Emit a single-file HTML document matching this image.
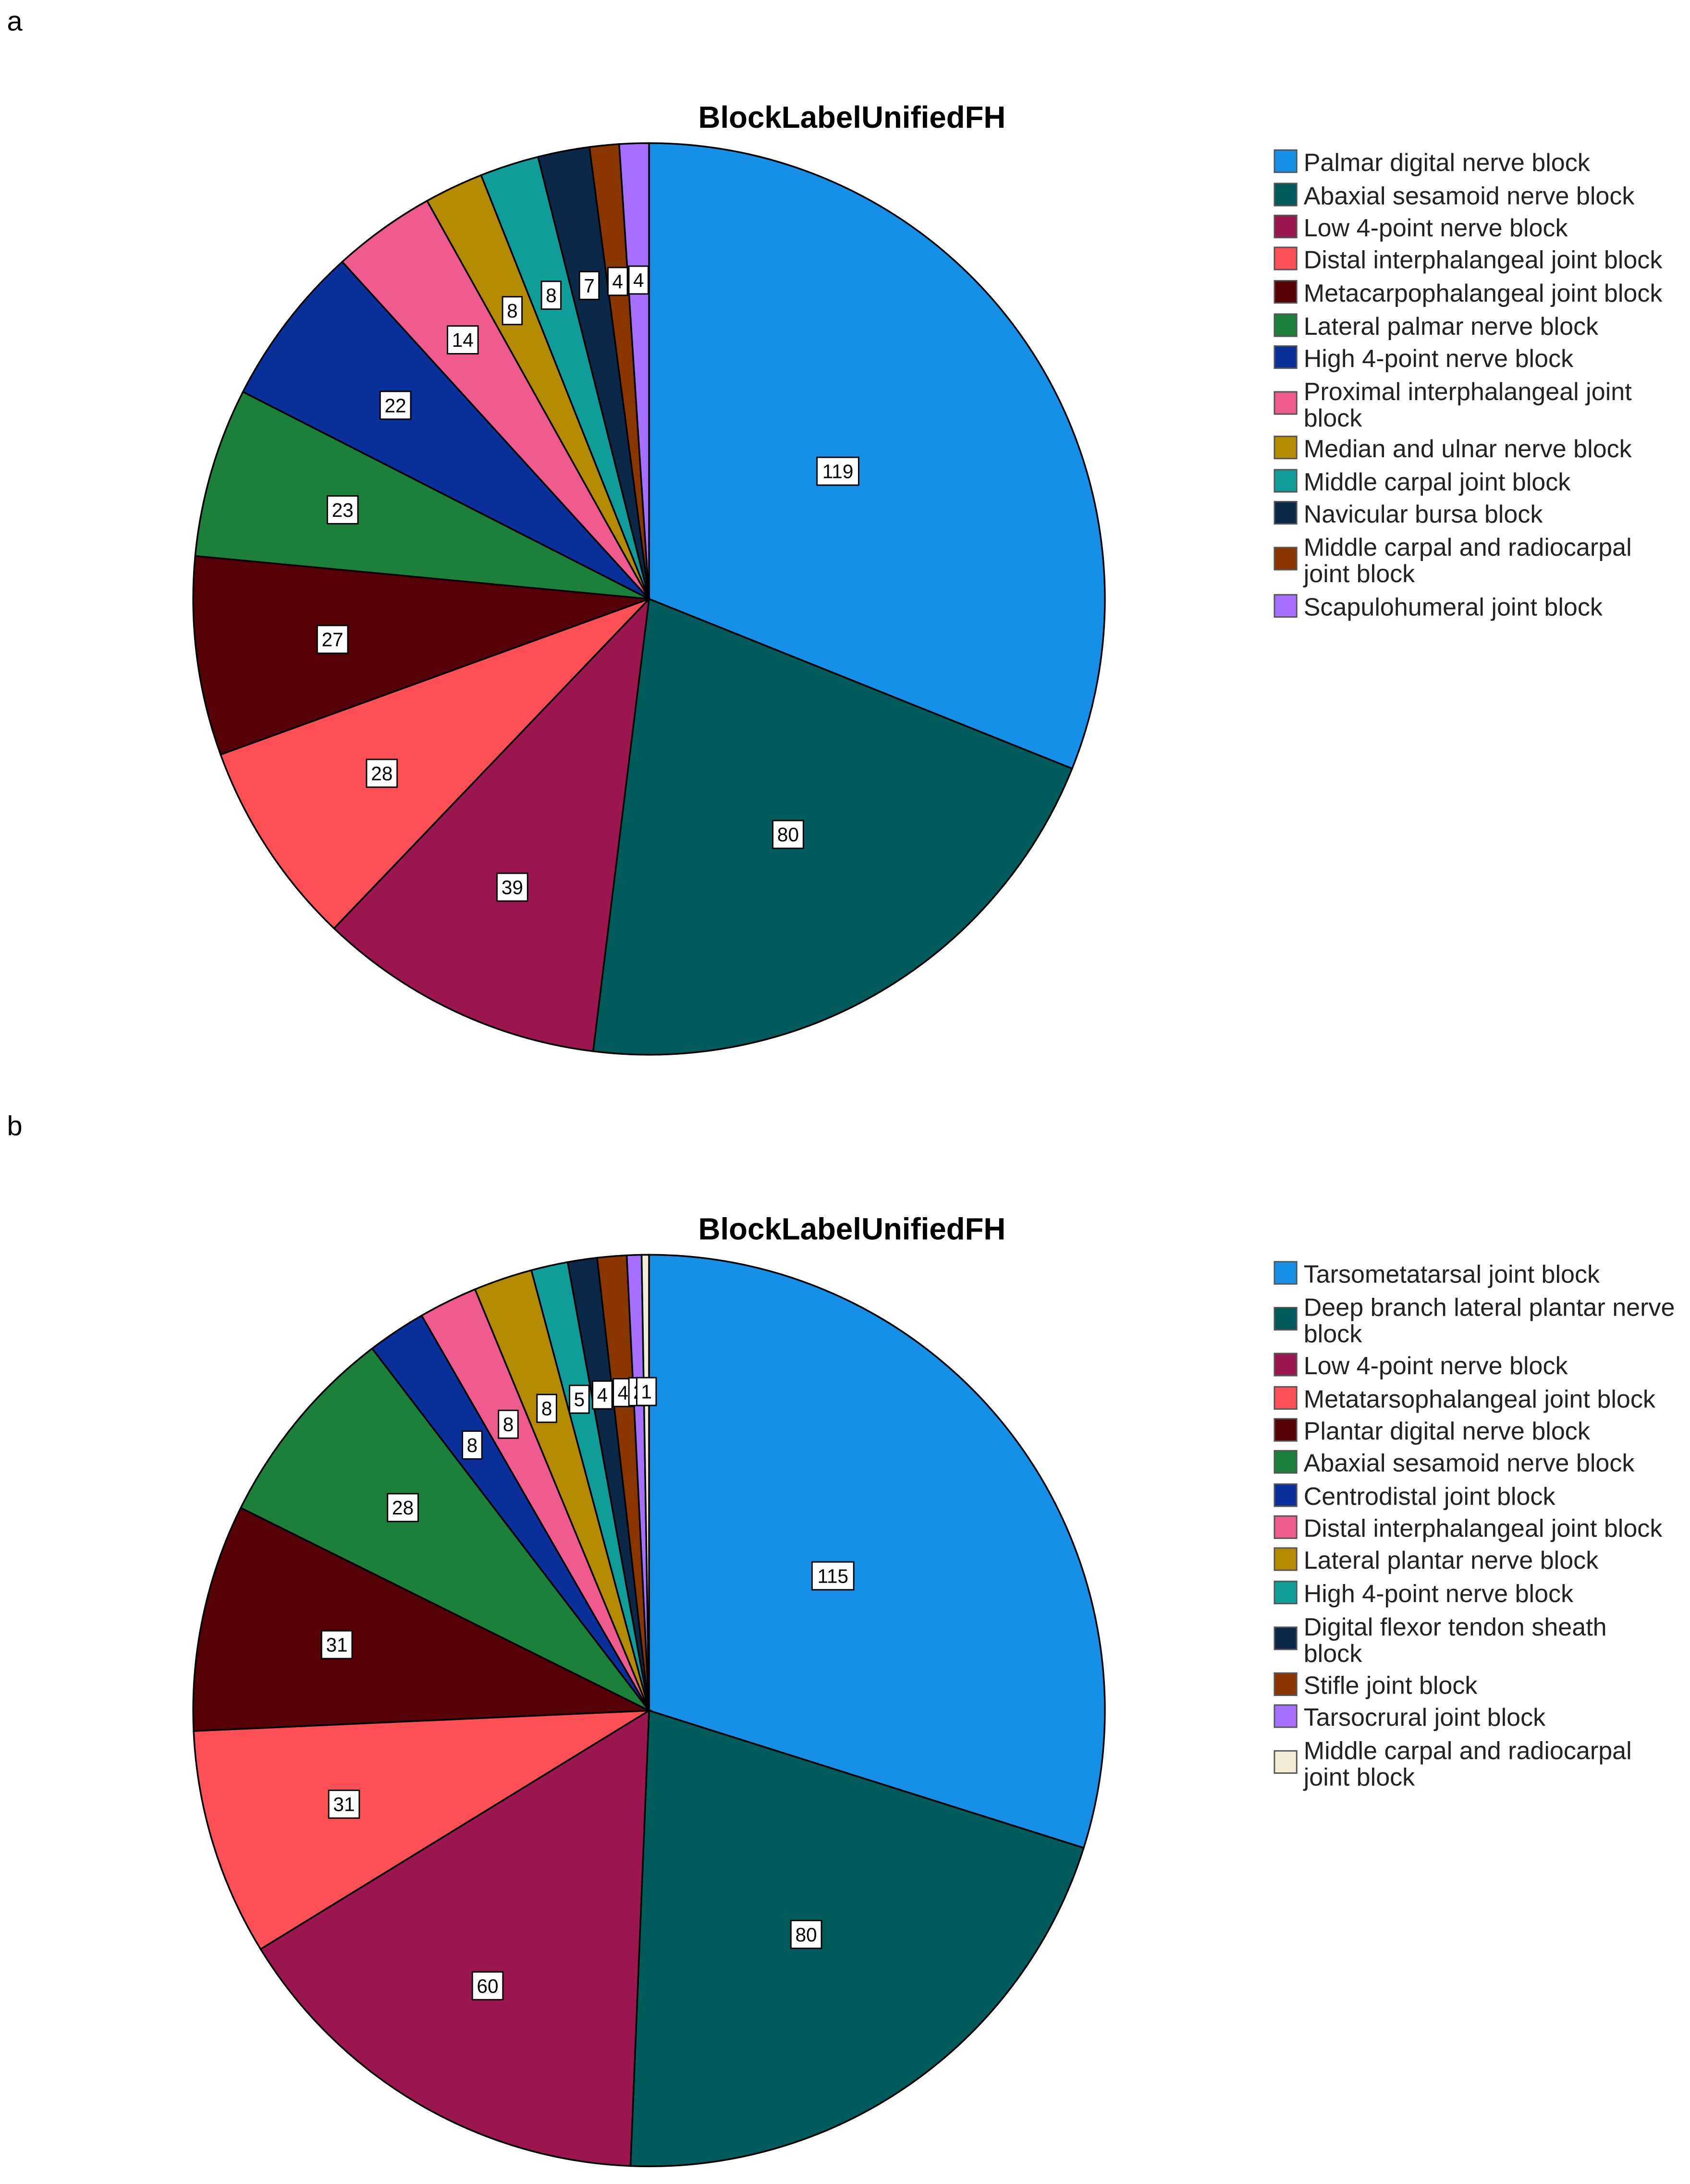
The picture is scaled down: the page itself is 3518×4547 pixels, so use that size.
<!DOCTYPE html>
<html><head><meta charset="utf-8"><style>
html,body{margin:0;padding:0;background:#fff;}
svg{display:block;}
text{font-family:"Liberation Sans",sans-serif;}
</style></head><body>
<svg id="root" xmlns="http://www.w3.org/2000/svg" width="3518" height="4547" viewBox="0 0 1216 1571.7">
<rect width="1216" height="1571.7" fill="#fff"/>
<text x="5" y="22" font-size="20">a</text>
<text x="5" y="817" font-size="20">b</text>
<text x="613" y="92" font-size="22" font-weight="bold" text-anchor="middle">BlockLabelUnifiedFH</text>
<text x="613" y="892" font-size="22" font-weight="bold" text-anchor="middle">BlockLabelUnifiedFH</text>
<g id="pieA"></g>
<g id="pieB"></g>
<g id="legA"></g>
<g id="legB"></g>
</svg>
<script>
const categoriesA = ["Palmar digital nerve block","Abaxial sesamoid nerve block","Low 4-point nerve block","Distal interphalangeal joint block","Metacarpophalangeal joint block","Lateral palmar nerve block","High 4-point nerve block","Proximal interphalangeal joint block","Median and ulnar nerve block","Middle carpal joint block","Navicular bursa block","Middle carpal and radiocarpal joint block","Scapulohumeral joint block"];
const valuesA = [119,80,39,28,27,23,22,14,8,8,7,4,4];
const categoriesB = ["Tarsometatarsal joint block","Deep branch lateral plantar nerve block","Low 4-point nerve block","Metatarsophalangeal joint block","Plantar digital nerve block","Abaxial sesamoid nerve block","Centrodistal joint block","Distal interphalangeal joint block","Lateral plantar nerve block","High 4-point nerve block","Digital flexor tendon sheath block","Stifle joint block","Tarsocrural joint block","Middle carpal and radiocarpal joint block"];
const valuesB = [115,80,60,31,31,28,8,8,8,5,4,4,2,1];
const colorsA = ["#1690e6","#015a5b","#9c1750","#fc4f56","#560008","#1c7f3a","#0b2f9b","#ef5a8f","#b48a00","#0f9d9a","#0b2848","#8a3600","#a66fff"];
const colorsB = ["#1690e6","#015a5b","#9c1750","#fc4f56","#560008","#1c7f3a","#0b2f9b","#ef5a8f","#b48a00","#0f9d9a","#0b2848","#8a3600","#a66fff","#f2ecd6"];
const NS="http://www.w3.org/2000/svg";
function mk(tag,attrs,parent){const e=document.createElementNS(NS,tag);for(const k in attrs)e.setAttribute(k,attrs[k]);parent.appendChild(e);return e;}
function drawPie(g,vals,cols,cx,cy,r){
  const total=vals.reduce((a,b)=>a+b,0);
  let a0=0;
  const pt=(a,rr)=>[cx+rr*Math.sin(a),cy-rr*Math.cos(a)];
  vals.forEach((v,i)=>{
    const a1=a0+v/total*2*Math.PI;
    const p0=pt(a0,r),p1=pt(a1,r);
    const large=(a1-a0)>Math.PI?1:0;
    const p=mk('path',{d:`M${cx},${cy}L${p0[0]},${p0[1]}A${r},${r} 0 ${large} 1 ${p1[0]},${p1[1]}Z`,fill:cols[i],stroke:'#000','stroke-width':1.2},g);
    
    
    a0=a1;
  });
  a0=0;
  vals.forEach((v,i)=>{
    const a1=a0+v/total*2*Math.PI;
    const f=i===0?0.5:(i===1?0.6:0.7);
    const c=pt((a0+a1)/2,r*f);
    const s=String(v);const w=6+s.length*8;
    const lg=mk('g',{},g);
    
    
    mk('rect',{x:c[0]-w/2,y:c[1]-10,width:w,height:20,fill:'#fff',stroke:'#000','stroke-width':1},lg);
    const t=mk('text',{x:c[0],y:c[1]+5,'font-size':14,'text-anchor':'middle'},lg);
    t.textContent=s;
    a0=a1;
  });
}
function drawLegend(g,cats,cols,ys,twoLine){
  cats.forEach((c,i)=>{
    const eg=mk('g',{},g);
    
    
    const y=ys[i];
    const split=twoLine[i];
    const sy=split?y+9:y;
    mk('rect',{x:917,y:sy-8,width:16,height:16,fill:cols[i],stroke:'#555','stroke-width':1},eg);
    if(split){
      const t1=mk('text',{x:938,y:y+7,'font-size':18,fill:'#222'},eg);t1.textContent=c.slice(0,split);
      const t2=mk('text',{x:938,y:y+26,'font-size':18,fill:'#222'},eg);t2.textContent=c.slice(split+1);
    }else{
      const t=mk('text',{x:938,y:y+7,'font-size':18,fill:'#222'},eg);t.textContent=c;
    }
  });
}
drawPie(document.getElementById('pieA'),valuesA,colorsA,467,431,328);
drawPie(document.getElementById('pieB'),valuesB,colorsB,467,1231,328);
const ysA=[116,140,163,186,210,234,257,281,322,346,369,393,436];
const splitA=categoriesA.map((c,i)=>i===7?c.lastIndexOf(' '):(i===11?c.indexOf(' joint'):0));
drawLegend(document.getElementById('legA'),categoriesA,colorsA,ysA,splitA);
const ysB=[916,940,982,1006,1029,1052,1076,1099,1122,1146,1170,1212,1235,1259];
const splitB=categoriesB.map((c,i)=>(i===1||i===10)?c.lastIndexOf(' '):(i===13?c.indexOf(' joint'):0));
drawLegend(document.getElementById('legB'),categoriesB,colorsB,ysB,splitB);
</script>
</body></html>
